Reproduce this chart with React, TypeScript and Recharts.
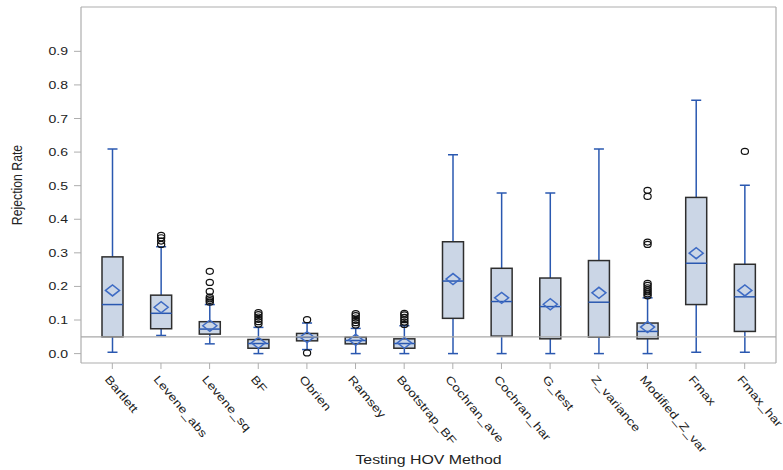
import React from 'react';
import { ComposedChart, Bar, XAxis, YAxis, CartesianGrid, ReferenceLine, Label } from 'recharts';

const categories = ['Bartlett', 'Levene_abs', 'Levene_sq', 'BF', 'Obrien', 'Ramsey', 'Bootstrap_BF', 'Cochran_ave', 'Cochran_har', 'G_test', 'Z_variance', 'Modified_Z_var', 'Fmax', 'Fmax_har'];
const whiskerLow = [0.004, 0.054, 0.029, 0.0, 0.012, 0.0, 0.0, 0.0, 0.0, 0.0, 0.0, 0.0, 0.004, 0.004];
const q1 = [0.05, 0.074, 0.058, 0.016, 0.038, 0.029, 0.016, 0.105, 0.052, 0.044, 0.049, 0.044, 0.146, 0.066];
const median = [0.146, 0.12, 0.073, 0.03, 0.049, 0.039, 0.03, 0.216, 0.155, 0.14, 0.153, 0.066, 0.269, 0.169];
const mean = [0.188, 0.138, 0.083, 0.032, 0.049, 0.041, 0.032, 0.222, 0.166, 0.147, 0.181, 0.079, 0.299, 0.188];
const q3 = [0.288, 0.174, 0.095, 0.042, 0.06, 0.049, 0.044, 0.333, 0.254, 0.225, 0.277, 0.091, 0.465, 0.266];
const whiskerHigh = [0.609, 0.318, 0.146, 0.078, 0.091, 0.075, 0.083, 0.592, 0.478, 0.478, 0.609, 0.166, 0.754, 0.501];
const outliers: number[][] = [
  [],
  [0.325, 0.335, 0.345, 0.352],
  [0.245, 0.212, 0.185, 0.168, 0.163, 0.158, 0.153],
  [0.088, 0.095, 0.102, 0.109, 0.116, 0.122],
  [0.101, 0.002],
  [0.085, 0.092, 0.099, 0.106, 0.113, 0.119],
  [0.087, 0.094, 0.101, 0.108, 0.115, 0.12],
  [],
  [],
  [],
  [],
  [0.172, 0.178, 0.184, 0.19, 0.196, 0.203, 0.209, 0.325, 0.332, 0.468, 0.486],
  [],
  [0.602],
];
const yTicks = [0, 0.1, 0.2, 0.3, 0.4, 0.5, 0.6, 0.7, 0.8, 0.9];

const rows = categories.map((name, i) => ({
  name,
  range: [whiskerLow[i], whiskerHigh[i]],
  lo: whiskerLow[i],
  hi: whiskerHigh[i],
  q1: q1[i],
  q3: q3[i],
  median: median[i],
  mean: mean[i],
  outliers: outliers[i],
}));

const FONT = '"Liberation Sans", Arial, sans-serif';
const SX = 1.22;
const SY = 0.98;
const BLUE = '#2A58B0';

const BoxShape = (props: any) => {
  const { x, y, width, height, payload } = props;
  if (!payload) return null;
  const { lo, hi } = payload;
  const px = (v: number) => y + ((hi - v) / (hi - lo)) * height;
  const cx = x + width / 2;
  const cap = 5;
  const yq1 = px(payload.q1);
  const yq3 = px(payload.q3);
  const ym = px(payload.median);
  const ymean = px(payload.mean);
  const dw = 7;
  const dh = 5.5;
  return (
    <g>
      <line x1={cx} x2={cx} y1={px(hi)} y2={yq3} stroke={BLUE} strokeWidth={1.5} />
      <line x1={cx} x2={cx} y1={yq1} y2={px(lo)} stroke={BLUE} strokeWidth={1.5} />
      <line x1={cx - cap} x2={cx + cap} y1={px(hi)} y2={px(hi)} stroke={BLUE} strokeWidth={1.5} />
      <line x1={cx - cap} x2={cx + cap} y1={px(lo)} y2={px(lo)} stroke={BLUE} strokeWidth={1.5} />
      <rect x={x} y={yq3} width={width} height={yq1 - yq3} fill="#CBD6E6" stroke="#2E2E2E" strokeWidth={1.5} />
      <line x1={x} x2={x + width} y1={ym} y2={ym} stroke={BLUE} strokeWidth={1.5} />
      <path
        d={`M${cx - dw},${ymean} L${cx},${ymean - dh} L${cx + dw},${ymean} L${cx},${ymean + dh} Z`}
        fill="none"
        stroke="#3E6BC4"
        strokeWidth={1.5}
      />
      {payload.outliers.map((o: number, k: number) => (
        <ellipse key={k} cx={cx} cy={px(o)} rx={3.6} ry={3} fill="none" stroke="#111" strokeWidth={1.2} />
      ))}
    </g>
  );
};

const XTick = (props: any) => {
  const { x, y, payload } = props;
  return (
    <text
      x={0}
      y={0}
      transform={`translate(${x - 5},${y + 6}) rotate(50) scale(${SX},${SY})`}
      textAnchor="start"
      dy="0.35em"
      fontFamily={FONT}
      fontSize={11.5}
      fill="#222"
    >
      {payload.value}
    </text>
  );
};

const YTick = (props: any) => {
  const { x, y, payload } = props;
  return (
    <text
      x={0}
      y={0}
      transform={`translate(${x},${y}) scale(${SX},${SY})`}
      textAnchor="end"
      dy="0.36em"
      fontFamily={FONT}
      fontSize={11.5}
      fill="#222"
    >
      {Number(payload.value).toFixed(1)}
    </text>
  );
};

const YLabel = (props: any) => {
  const vb = props.viewBox || { x: 0, y: 0, width: 81, height: 356 };
  const cx = vb.x + 17;
  const cy = vb.y + vb.height / 2;
  return (
    <text
      x={0}
      y={0}
      transform={`translate(${cx},${cy}) scale(${SX},${SY}) rotate(-90)`}
      textAnchor="middle"
      dy="0.35em"
      fontFamily={FONT}
      fontSize={12.5}
      fill="#222"
    >
      Rejection Rate
    </text>
  );
};

const XLabel = (props: any) => {
  const vb = props.viewBox || { x: 81, y: 363, width: 695, height: 107 };
  const cx = vb.x + vb.width / 2;
  const cy = vb.y + 97;
  return (
    <text
      x={0}
      y={0}
      transform={`translate(${cx},${cy}) scale(${SX},${SY})`}
      textAnchor="middle"
      dy="0.35em"
      fontFamily={FONT}
      fontSize={13}
      fill="#222"
    >
      Testing HOV Method
    </text>
  );
};

export default function App() {
  return (
    <div style={{ position: 'absolute', left: 0, top: 0, width: 783, height: 470, background: '#fff' }}>
      <ComposedChart width={783} height={470} data={rows} margin={{ top: 7, right: 7, bottom: 0, left: 0 }}>
        <CartesianGrid
          stroke="#AEAEAE"
          strokeWidth={1.2}
          horizontalCoordinatesGenerator={(p: any) => [p.offset.top, p.offset.top + p.offset.height]}
          verticalCoordinatesGenerator={(p: any) => [p.offset.left, p.offset.left + p.offset.width]}
        />
        <XAxis
          dataKey="name"
          type="category"
          height={107}
          interval={0}
          padding={{ left: 7, right: 7 }}
          axisLine={false}
          tickLine={{ stroke: '#AEAEAE' }}
          tickSize={6}
          tick={<XTick />}
        >
          <Label content={<XLabel />} />
        </XAxis>
        <YAxis
          type="number"
          width={81}
          domain={[-0.028, 1.032]}
          ticks={yTicks}
          allowDataOverflow
          axisLine={false}
          tickLine={{ stroke: '#AEAEAE' }}
          tickSize={7}
          tickMargin={6}
          tick={<YTick />}
        >
          <Label content={<YLabel />} />
        </YAxis>
        <Bar dataKey="range" barSize={21} isAnimationActive={false} shape={<BoxShape />} />
        <ReferenceLine y={0.05} stroke="#A8A8A8" strokeWidth={1.2} />
      </ComposedChart>
    </div>
  );
}
